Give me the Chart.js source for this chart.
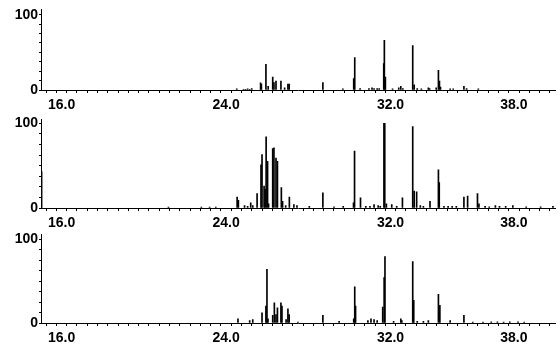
<!DOCTYPE html>
<html>
<head>
<meta charset="utf-8">
<script src="https://cdn.jsdelivr.net/npm/chart.js@4"></script>
<style>
  html, body { margin: 0; padding: 0; background: #fff; }
  #wrap { position: relative; width: 560px; height: 348px; overflow: hidden; background: #fff; }
  canvas { position: absolute; left: 0; }
</style>
</head>
<body>
<div id="wrap">
  <canvas id="c1" width="560" height="112" style="top:0px"></canvas>
  <canvas id="c2" width="560" height="120" style="top:110px"></canvas>
  <canvas id="c3" width="560" height="120" style="top:225px"></canvas>
</div>
<script>
// Retention time (min) and relative abundance (%) of each peak, per trace
const TIMES_TOP   = [24.52,24.85,24.95,25.05,25.15,25.25,25.68,25.72,25.94,26.05,26.27,26.33,26.43,26.67,26.85,27.01,27.07,28.71,29.68,30.21,30.26,30.52,30.95,31.10,31.20,31.35,31.45,31.67,31.70,31.75,32.10,32.40,32.50,32.60,33.08,33.15,33.30,33.50,33.84,33.90,34.22,34.33,34.38,34.43,34.90,35.05,35.57,35.70,36.27];
const HEIGHTS_TOP = [1.5,1,1,1.5,1,2,9.5,8,34,5,17,10,12,12,3,8,8,10,1.5,15,43,2,2,3,2,2,2,35,66,17,1.5,3,5,2,59,7,2,1.5,3,2,3,26,12,4,1.5,1.5,5,2,1.5];

const TIMES_MID   = [15.03,21.20,22.80,23.20,23.50,24.54,24.60,24.90,25.05,25.20,25.30,25.51,25.70,25.75,25.85,25.90,25.95,26.02,26.07,26.27,26.33,26.43,26.50,26.69,26.75,26.90,27.08,27.30,27.45,28.05,28.71,29.25,29.70,30.20,30.25,30.54,30.80,31.00,31.20,31.40,31.50,31.68,31.72,31.80,32.06,32.30,32.58,33.08,33.15,33.27,33.45,33.60,33.92,34.33,34.37,34.60,34.80,35.00,35.20,35.57,35.75,36.23,36.30,36.60,36.80,37.10,37.30,37.60,37.95,38.60,39.30,39.90];
const HEIGHTS_MID = [43,1,1,1,1,13,9,3,2,6,3,17,51,63,26,22,84,55,5,70,71,59,55,24,8,3,13,4,3,2,18,1.5,2,6,67,12,2,2,4,3,2,100,100,5,4,2,12,96,20,19,3,2,8,45,30,2,2,2,2,13,14,17,5,2,1.5,3,2,2,3,1.5,1.5,2];

const TIMES_BOT   = [24.58,25.15,25.30,25.75,25.94,25.99,26.04,26.27,26.35,26.43,26.50,26.67,26.72,26.92,27.01,27.07,27.50,28.71,29.50,30.21,30.26,30.30,30.90,31.05,31.20,31.35,31.62,31.69,31.73,32.15,32.50,32.55,33.08,33.13,33.30,33.60,33.84,34.33,34.40,34.90,35.57,36.00,36.50,36.90,37.20,37.50,37.80,38.20,38.50];
const HEIGHTS_BOT = [5,3,4,12,20,64,5,9,24,10,18,24,20,4,17,10,1,9,2,5,43,20,3,5,4,3,19,54,79,2,5,3,73,27,2,2,3,34,21,3,9,1,1,1.5,1.5,1,1.5,1.5,1];

// Axis ticks and labels
const X_MIN = 15, X_MAX = 40;
const X_TICKS = [];
for (let v = X_MIN; v <= X_MAX + 1e-9; v += 0.5) X_TICKS.push(v);
const X_LABELS = [16, 24, 32, 38];
const Y_TICKS = [0, 12.5, 25, 37.5, 50, 62.5, 75, 87.5, 100];
const Y_LABELS = [0, 100];
const Y_MAX = [107, 104.5, 105.5];

const FONT = { family: "'Liberation Sans', Arial, sans-serif", weight: 'bold', size: 14 };

function makeChart(id, times, heights, yMax) {
  const data = times.map((t, i) => ({ x: t, y: heights[i] }));
  return new Chart(document.getElementById(id), {
    type: 'bar',
    data: {
      datasets: [{
        data,
        backgroundColor: '#000',
        borderWidth: 0,
        barThickness: 1,
        grouped: false
      }]
    },
    options: {
      responsive: false,
      animation: false,
      events: [],
      layout: { padding: { top: 3, right: 5, left: 0, bottom: 0 } },
      plugins: { legend: { display: false }, tooltip: { enabled: false } },
      scales: {
        x: {
          type: 'linear',
          min: X_MIN, max: X_MAX,
          offset: false,
          afterBuildTicks: s => { s.ticks = X_TICKS.map(v => ({ value: v })); },
          afterFit: s => { s.height = 22; },
          grid: { display: true, drawOnChartArea: false, drawTicks: true, tickLength: 3, color: '#000', lineWidth: 1 },
          border: { display: true, color: '#000', width: 1 },
          ticks: {
            autoSkip: false, maxRotation: 0, minRotation: 0, padding: 4,
            color: '#000', font: FONT,
            callback: v => X_LABELS.includes(v) ? v.toFixed(1) : ''
          }
        },
        y: {
          min: 0, max: yMax,
          afterBuildTicks: s => { s.ticks = Y_TICKS.map(v => ({ value: v })); },
          afterFit: s => { s.width = 41; },
          grid: { display: true, drawOnChartArea: false, drawTicks: true, tickLength: 2, color: '#000', lineWidth: 1 },
          border: { display: true, color: '#000', width: 1 },
          ticks: {
            autoSkip: false, padding: 1, color: '#000', font: FONT,
            callback: v => Y_LABELS.includes(v) ? String(v) : ''
          }
        }
      }
    }
  });
}

makeChart('c1', TIMES_TOP, HEIGHTS_TOP, Y_MAX[0]);
makeChart('c2', TIMES_MID, HEIGHTS_MID, Y_MAX[1]);
makeChart('c3', TIMES_BOT, HEIGHTS_BOT, Y_MAX[2]);
</script>
</body>
</html>
